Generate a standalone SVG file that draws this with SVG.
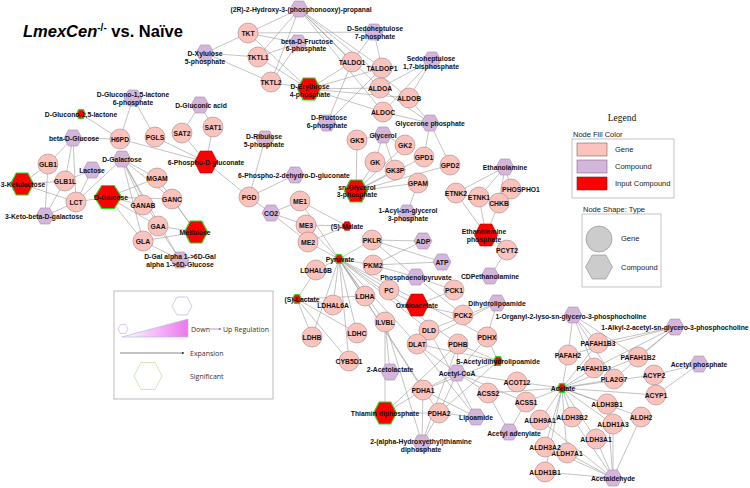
<svg xmlns="http://www.w3.org/2000/svg" xmlns:xlink="http://www.w3.org/1999/xlink" width="750" height="488" viewBox="0 0 750 488">
<style>
.gene{fill:#fcc3bd;stroke:#a08585;stroke-width:.6}
.cmp{fill:#d4b6db;stroke:#a48bab;stroke-width:.6}
.inp{fill:#ff0000;stroke:#22dd22;stroke-width:1.2}
.inpn{fill:#ff0000;stroke:#b00000;stroke-width:.6}
.lb{font-family:"Liberation Sans",Arial,sans-serif;font-weight:bold;font-size:6.8px;text-anchor:middle;fill:#111}
#edges line{stroke:#9a9a9a;stroke-width:.6}
.lg{font-family:"Liberation Sans",Arial,sans-serif;font-size:7.5px;fill:#222}
.lg2{font-family:"Open Sans","Liberation Sans",sans-serif;font-size:7px;fill:#333}
</style>
<defs>
<polygon id="hx" points="-9,0 -4.5,-8 4.5,-8 9,0 4.5,8 -4.5,8"/>
<polygon id="hs" points="-4.5,0 -2.3,-4.3 2.3,-4.3 4.5,0 2.3,4.3 -2.3,4.3"/>
<polygon id="hb" points="-11.5,0 -5.8,-11 5.8,-11 11.5,0 5.8,11 -5.8,11"/>
<linearGradient id="grad" x1="0" y1="0" x2="1" y2="0"><stop offset="0" stop-color="#ffffff"/><stop offset="1" stop-color="#ee77ee"/></linearGradient>
<marker id="arr" viewBox="0 0 6 6" refX="5" refY="3" markerWidth="4" markerHeight="4" orient="auto"><path d="M0,0 L6,3 L0,6 z" fill="#333"/></marker>
<marker id="arrp" viewBox="0 0 6 6" refX="5" refY="3" markerWidth="4" markerHeight="4" orient="auto"><path d="M0,0 L6,3 L0,6 z" fill="#9966cc"/></marker>
</defs>
<rect width="750" height="488" fill="#ffffff"/>
<text x="23" y="37" font-family="'Liberation Sans',Arial,sans-serif" font-weight="bold" font-size="16.5" fill="#000"><tspan font-style="italic">LmexCen</tspan><tspan font-size="10" dy="-6">-/-</tspan><tspan dy="6"> vs. Naïve</tspan></text>
<g id="edges">
<line x1="133" y1="98" x2="120" y2="139"/><line x1="133" y1="98" x2="155" y2="137"/><line x1="81" y1="114" x2="120" y2="139"/><line x1="73" y1="138" x2="120" y2="139"/><line x1="73" y1="138" x2="48" y2="164"/><line x1="73" y1="138" x2="65" y2="181"/><line x1="73" y1="138" x2="76" y2="202"/><line x1="120" y1="139" x2="206" y2="162"/><line x1="155" y1="137" x2="206" y2="162"/><line x1="182" y1="133" x2="200" y2="105"/><line x1="213" y1="127" x2="200" y2="105"/><line x1="182" y1="133" x2="206" y2="162"/><line x1="213" y1="127" x2="206" y2="162"/><line x1="206" y1="162" x2="249" y2="197"/><line x1="265" y1="139" x2="249" y2="197"/><line x1="249" y1="197" x2="295" y2="175"/><line x1="249" y1="197" x2="271" y2="213"/><line x1="271" y1="213" x2="300" y2="201"/><line x1="271" y1="213" x2="306" y2="225"/><line x1="271" y1="213" x2="308" y2="242"/><line x1="300" y1="201" x2="347" y2="226"/><line x1="300" y1="201" x2="339" y2="259"/><line x1="306" y1="225" x2="347" y2="226"/><line x1="306" y1="225" x2="339" y2="259"/><line x1="308" y1="242" x2="347" y2="226"/><line x1="308" y1="242" x2="339" y2="259"/>
<line x1="22" y1="184" x2="48" y2="164"/><line x1="22" y1="184" x2="65" y2="181"/><line x1="22" y1="184" x2="76" y2="202"/><line x1="45" y1="216" x2="48" y2="164"/><line x1="45" y1="216" x2="65" y2="181"/><line x1="45" y1="216" x2="76" y2="202"/><line x1="92" y1="170" x2="76" y2="202"/><line x1="92" y1="170" x2="65" y2="181"/><line x1="76" y1="202" x2="108" y2="197"/><line x1="76" y1="202" x2="122" y2="159"/><line x1="122" y1="159" x2="157" y2="178"/><line x1="122" y1="159" x2="143" y2="205"/><line x1="122" y1="159" x2="172" y2="199"/><line x1="122" y1="159" x2="158" y2="226"/><line x1="122" y1="159" x2="143" y2="241"/><line x1="122" y1="159" x2="180" y2="260"/><line x1="108" y1="197" x2="157" y2="178"/><line x1="108" y1="197" x2="143" y2="205"/><line x1="108" y1="197" x2="172" y2="199"/><line x1="108" y1="197" x2="158" y2="226"/><line x1="108" y1="197" x2="143" y2="241"/><line x1="196" y1="232" x2="172" y2="199"/><line x1="196" y1="232" x2="158" y2="226"/><line x1="196" y1="232" x2="143" y2="241"/><line x1="196" y1="232" x2="157" y2="178"/><line x1="180" y1="260" x2="143" y2="241"/><line x1="180" y1="260" x2="158" y2="226"/>
<line x1="299" y1="9" x2="248" y2="33"/><line x1="299" y1="9" x2="258" y2="57"/><line x1="299" y1="9" x2="271" y2="82"/><line x1="299" y1="9" x2="352" y2="62"/><line x1="299" y1="9" x2="382" y2="68"/><line x1="299" y1="9" x2="380" y2="88"/><line x1="299" y1="9" x2="409" y2="98"/><line x1="299" y1="9" x2="383" y2="112"/><line x1="205" y1="53" x2="248" y2="33"/><line x1="205" y1="53" x2="258" y2="57"/><line x1="205" y1="53" x2="271" y2="82"/><line x1="298" y1="43" x2="248" y2="33"/><line x1="298" y1="43" x2="258" y2="57"/><line x1="298" y1="43" x2="271" y2="82"/><line x1="309" y1="89" x2="248" y2="33"/><line x1="309" y1="89" x2="258" y2="57"/><line x1="309" y1="89" x2="271" y2="82"/><line x1="309" y1="89" x2="352" y2="62"/><line x1="309" y1="89" x2="382" y2="68"/><line x1="309" y1="89" x2="380" y2="88"/><line x1="309" y1="89" x2="409" y2="98"/><line x1="309" y1="89" x2="383" y2="112"/><line x1="374" y1="32" x2="352" y2="62"/><line x1="374" y1="32" x2="382" y2="68"/><line x1="374" y1="32" x2="248" y2="33"/><line x1="327" y1="123" x2="352" y2="62"/><line x1="327" y1="123" x2="382" y2="68"/><line x1="432" y1="60" x2="380" y2="88"/><line x1="432" y1="60" x2="409" y2="98"/><line x1="432" y1="60" x2="383" y2="112"/><line x1="430" y1="123" x2="380" y2="88"/><line x1="430" y1="123" x2="409" y2="98"/><line x1="430" y1="123" x2="383" y2="112"/><line x1="430" y1="123" x2="424" y2="157"/><line x1="430" y1="123" x2="450" y2="165"/>
<line x1="383" y1="135" x2="357" y2="140"/><line x1="383" y1="135" x2="375" y2="162"/><line x1="383" y1="135" x2="405" y2="145"/><line x1="383" y1="135" x2="395" y2="170"/><line x1="356" y1="191" x2="357" y2="140"/><line x1="356" y1="191" x2="375" y2="162"/><line x1="356" y1="191" x2="405" y2="145"/><line x1="356" y1="191" x2="395" y2="170"/><line x1="356" y1="191" x2="424" y2="157"/><line x1="356" y1="191" x2="450" y2="165"/><line x1="356" y1="191" x2="418" y2="183"/><line x1="418" y1="183" x2="407" y2="213"/>
<line x1="505" y1="167" x2="456" y2="193"/><line x1="505" y1="167" x2="479" y2="197"/><line x1="505" y1="167" x2="499" y2="203"/><line x1="505" y1="167" x2="511" y2="189"/><line x1="486" y1="235" x2="456" y2="193"/><line x1="486" y1="235" x2="479" y2="197"/><line x1="486" y1="235" x2="499" y2="203"/><line x1="486" y1="235" x2="507" y2="250"/><line x1="490" y1="276" x2="507" y2="250"/>
<line x1="339" y1="259" x2="316" y2="270"/><line x1="339" y1="259" x2="333" y2="305"/><line x1="339" y1="259" x2="365" y2="296"/><line x1="339" y1="259" x2="312" y2="337"/><line x1="339" y1="259" x2="357" y2="333"/><line x1="339" y1="259" x2="349" y2="361"/><line x1="339" y1="259" x2="372" y2="240"/><line x1="339" y1="259" x2="373" y2="265"/><line x1="339" y1="259" x2="389" y2="290"/><line x1="339" y1="259" x2="423" y2="390"/><line x1="339" y1="259" x2="439" y2="413"/><line x1="339" y1="259" x2="458" y2="344"/><line x1="339" y1="259" x2="417" y2="344"/><line x1="339" y1="259" x2="385" y2="322"/><line x1="339" y1="259" x2="429" y2="330"/><line x1="339" y1="259" x2="487" y2="337"/>
<line x1="297" y1="299" x2="316" y2="270"/><line x1="297" y1="299" x2="333" y2="305"/><line x1="297" y1="299" x2="365" y2="296"/><line x1="297" y1="299" x2="312" y2="337"/><line x1="297" y1="299" x2="357" y2="333"/><line x1="297" y1="299" x2="349" y2="361"/>
<line x1="372" y1="240" x2="416" y2="277"/><line x1="373" y1="265" x2="416" y2="277"/><line x1="372" y1="240" x2="423" y2="241"/><line x1="373" y1="265" x2="423" y2="241"/><line x1="372" y1="240" x2="442" y2="262"/><line x1="373" y1="265" x2="442" y2="262"/><line x1="454" y1="290" x2="416" y2="277"/><line x1="463" y1="315" x2="416" y2="277"/><line x1="389" y1="290" x2="417" y2="305"/><line x1="454" y1="290" x2="417" y2="305"/><line x1="463" y1="315" x2="417" y2="305"/>
<line x1="385" y1="322" x2="390" y2="372"/><line x1="385" y1="322" x2="385" y2="413"/><line x1="385" y1="322" x2="422" y2="443"/><line x1="423" y1="390" x2="457" y2="373"/><line x1="423" y1="390" x2="385" y2="413"/><line x1="423" y1="390" x2="422" y2="443"/><line x1="423" y1="390" x2="476" y2="417"/><line x1="423" y1="390" x2="498" y2="361"/><line x1="439" y1="413" x2="457" y2="373"/><line x1="439" y1="413" x2="385" y2="413"/><line x1="439" y1="413" x2="422" y2="443"/><line x1="439" y1="413" x2="476" y2="417"/><line x1="439" y1="413" x2="498" y2="361"/><line x1="458" y1="344" x2="457" y2="373"/><line x1="458" y1="344" x2="385" y2="413"/><line x1="458" y1="344" x2="422" y2="443"/><line x1="458" y1="344" x2="498" y2="361"/><line x1="417" y1="344" x2="457" y2="373"/><line x1="417" y1="344" x2="498" y2="361"/><line x1="417" y1="344" x2="497" y2="303"/><line x1="417" y1="344" x2="476" y2="417"/><line x1="429" y1="330" x2="497" y2="303"/><line x1="429" y1="330" x2="476" y2="417"/><line x1="487" y1="337" x2="457" y2="373"/><line x1="487" y1="337" x2="498" y2="361"/><line x1="487" y1="337" x2="497" y2="303"/>
<line x1="517" y1="382" x2="457" y2="373"/><line x1="517" y1="382" x2="562" y2="388"/><line x1="488" y1="393" x2="457" y2="373"/><line x1="488" y1="393" x2="562" y2="388"/><line x1="488" y1="393" x2="509" y2="432"/><line x1="526" y1="402" x2="457" y2="373"/><line x1="526" y1="402" x2="562" y2="388"/><line x1="526" y1="402" x2="509" y2="432"/>
<line x1="562" y1="388" x2="598" y2="343"/><line x1="562" y1="388" x2="568" y2="355"/><line x1="562" y1="388" x2="638" y2="357"/><line x1="562" y1="388" x2="594" y2="368"/><line x1="562" y1="388" x2="614" y2="379"/><line x1="562" y1="388" x2="654" y2="375"/><line x1="562" y1="388" x2="656" y2="395"/><line x1="562" y1="388" x2="607" y2="404"/><line x1="562" y1="388" x2="572" y2="417"/><line x1="562" y1="388" x2="641" y2="417"/><line x1="562" y1="388" x2="613" y2="424"/><line x1="562" y1="388" x2="596" y2="439"/><line x1="562" y1="388" x2="567" y2="453"/><line x1="562" y1="388" x2="540" y2="420"/><line x1="562" y1="388" x2="545" y2="447"/><line x1="562" y1="388" x2="545" y2="472"/>
<line x1="613" y1="478" x2="607" y2="404"/><line x1="613" y1="478" x2="572" y2="417"/><line x1="613" y1="478" x2="641" y2="417"/><line x1="613" y1="478" x2="613" y2="424"/><line x1="613" y1="478" x2="596" y2="439"/><line x1="613" y1="478" x2="567" y2="453"/><line x1="613" y1="478" x2="540" y2="420"/><line x1="613" y1="478" x2="545" y2="447"/><line x1="613" y1="478" x2="545" y2="472"/>
<line x1="699" y1="364" x2="656" y2="395"/><line x1="699" y1="364" x2="654" y2="375"/>
<line x1="573" y1="315" x2="598" y2="343"/><line x1="573" y1="315" x2="568" y2="355"/><line x1="573" y1="315" x2="594" y2="368"/><line x1="573" y1="315" x2="638" y2="357"/><line x1="573" y1="315" x2="614" y2="379"/><line x1="675" y1="327" x2="598" y2="343"/><line x1="675" y1="327" x2="568" y2="355"/><line x1="675" y1="327" x2="594" y2="368"/><line x1="675" y1="327" x2="638" y2="357"/><line x1="675" y1="327" x2="614" y2="379"/>
</g>
<g id="nodes">
<g id="n-G15L6P"><use href="#hx" x="133" y="98" class="cmp"/><text class="lb" x="133" y="97">D-Glucono-1,5-lactone</text><text class="lb" x="133" y="105">6-phosphate</text></g>
<g id="n-bDGlc"><use href="#hx" x="73" y="138" class="cmp"/><text class="lb" x="74" y="141">beta-D-Glucose</text></g>
<g id="n-DGal"><use href="#hx" x="122" y="159" class="cmp"/><text class="lb" x="122" y="161.5">D-Galactose</text></g>
<g id="n-Lac"><use href="#hx" x="92" y="170" class="cmp"/><text class="lb" x="92" y="172.5">Lactose</text></g>
<g id="n-KbDGal"><use href="#hx" x="45" y="216" class="cmp"/><text class="lb" x="44" y="219">3-Keto-beta-D-galactose</text></g>
<g id="n-DGalA"><use href="#hx" x="180" y="260" class="cmp"/><text class="lb" x="180" y="258.5">D-Gal alpha 1-&gt;6D-Gal</text><text class="lb" x="180" y="266.5">alpha 1-&gt;6D-Glucose</text></g>
<g id="n-DGlcA"><use href="#hx" x="200" y="105" class="cmp"/><text class="lb" x="201" y="107.5">D-Gluconic acid</text></g>
<g id="n-R2H"><use href="#hx" x="299" y="9" class="cmp"/><text class="lb" x="301" y="11.5">(2R)-2-Hydroxy-3-(phosphonooxy)-propanal</text></g>
<g id="n-bF6P"><use href="#hx" x="298" y="43" class="cmp"/><text class="lb" x="307" y="43.5">beta-D-Fructose</text><text class="lb" x="306" y="51">6-phosphate</text></g>
<g id="n-X5P"><use href="#hx" x="205" y="53" class="cmp"/><text class="lb" x="205" y="55.5">D-Xylulose</text><text class="lb" x="205" y="64">5-phosphate</text></g>
<g id="n-S7P"><use href="#hx" x="374" y="32" class="cmp"/><text class="lb" x="375" y="30.5">D-Sedoheptulose</text><text class="lb" x="375" y="38.5">7-phosphate</text></g>
<g id="n-S17BP"><use href="#hx" x="432" y="60" class="cmp"/><text class="lb" x="431" y="60.5">Sedoheptulose</text><text class="lb" x="431" y="68.5">1,7-bisphosphate</text></g>
<g id="n-F6P"><use href="#hx" x="327" y="123" class="cmp"/><text class="lb" x="329" y="119.5">D-Fructose</text><text class="lb" x="327" y="127.5">6-phosphate</text></g>
<g id="n-Ru5P"><use href="#hx" x="265" y="139" class="cmp"/><text class="lb" x="264" y="138.5">D-Ribulose</text><text class="lb" x="264" y="146.5">5-phosphate</text></g>
<g id="n-GnP"><use href="#hx" x="430" y="123" class="cmp"/><text class="lb" x="430" y="125.5">Glycerone phosphate</text></g>
<g id="n-Gly"><use href="#hx" x="383" y="135" class="cmp"/><text class="lb" x="383" y="137.5">Glycerol</text></g>
<g id="n-AcylG3P"><use href="#hx" x="407" y="213" class="cmp"/><text class="lb" x="408" y="212.5">1-Acyl-sn-glycerol</text><text class="lb" x="408" y="220.5">3-phosphate</text></g>
<g id="n-PDG"><use href="#hx" x="295" y="175" class="cmp"/><text class="lb" x="294" y="177.5">6-Phospho-2-dehydro-D-gluconate</text></g>
<g id="n-CO2"><use href="#hx" x="271" y="213" class="cmp"/><text class="lb" x="271" y="215.5">CO2</text></g>
<g id="n-Etn"><use href="#hx" x="505" y="167" class="cmp"/><text class="lb" x="505" y="169.5">Ethanolamine</text></g>
<g id="n-CDPE"><use href="#hx" x="490" y="276" class="cmp"/><text class="lb" x="490" y="278.5">CDPethanolamine</text></g>
<g id="n-ADP"><use href="#hx" x="423" y="241" class="cmp"/><text class="lb" x="423" y="243.5">ADP</text></g>
<g id="n-ATP"><use href="#hx" x="442" y="262" class="cmp"/><text class="lb" x="442" y="264.5">ATP</text></g>
<g id="n-PEP"><use href="#hx" x="416" y="277" class="cmp"/><text class="lb" x="416" y="279.5">Phosphoenolpyruvate</text></g>
<g id="n-DHLA"><use href="#hx" x="497" y="303" class="cmp"/><text class="lb" x="497" y="305.5">Dihydrolipoamide</text></g>
<g id="n-Org"><use href="#hx" x="573" y="315" class="cmp"/><text class="lb" x="571" y="318.5">1-Organyl-2-lyso-sn-glycero-3-phosphocholine</text></g>
<g id="n-Alk"><use href="#hx" x="675" y="327" class="cmp"/><text class="lb" x="675" y="329.5">1-Alkyl-2-acetyl-sn-glycero-3-phosphocholine</text></g>
<g id="n-AcCoA"><use href="#hx" x="457" y="373" class="cmp"/><text class="lb" x="457" y="375.5">Acetyl-CoA</text></g>
<g id="n-AcLac"><use href="#hx" x="390" y="372" class="cmp"/><text class="lb" x="390" y="372">2-Acetolactate</text></g>
<g id="n-Lip"><use href="#hx" x="476" y="417" class="cmp"/><text class="lb" x="476" y="419.5">Lipoamide</text></g>
<g id="n-HETPP"><use href="#hx" x="422" y="443" class="cmp"/><text class="lb" x="421" y="444">2-(alpha-Hydroxyethyl)thiamine</text><text class="lb" x="421" y="451.5">diphosphate</text></g>
<g id="n-AcAd"><use href="#hx" x="509" y="432" class="cmp"/><text class="lb" x="514" y="436">Acetyl adenylate</text></g>
<g id="n-AcP"><use href="#hx" x="699" y="364" class="cmp"/><text class="lb" x="699" y="366.5">Acetyl phosphate</text></g>
<g id="n-AcAl"><use href="#hx" x="613" y="478" class="cmp"/><text class="lb" x="613" y="480.5">Acetaldehyde</text></g>
<g id="n-G15L"><use href="#hs" x="81" y="114" class="inp"/><text class="lb" x="81" y="116.5">D-Glucono-1,5-lactone</text></g>
<g id="n-KLac"><use href="#hb" x="22" y="184" class="inp"/><text class="lb" x="23" y="186.5">3-Ketolactose</text></g>
<g id="n-DGlc"><polygon class="inp" points="94.5,197 101.7,185.5 114.3,185.5 121.5,197 114.3,208.5 101.7,208.5"/><text class="lb" x="111" y="199.5">D-Glucose</text></g>
<g id="n-Mel"><use href="#hb" x="196" y="232" class="inp"/><text class="lb" x="195" y="235">Melibiose</text></g>
<g id="n-PG6"><use href="#hb" x="206" y="162" class="inpn"/><text class="lb" x="206" y="164.5">6-Phospho-D-gluconate</text></g>
<g id="n-E4P"><use href="#hb" x="309" y="89" class="inp"/><text class="lb" x="310" y="88.5">D-Erythrose</text><text class="lb" x="310" y="96.5">4-phosphate</text></g>
<g id="n-G3P"><use href="#hb" x="356" y="191" class="inp"/><text class="lb" x="357" y="189.5">sn-Glycerol</text><text class="lb" x="357" y="197">3-phosphate</text></g>
<g id="n-Mal"><use href="#hs" x="347" y="226" class="inpn"/><text class="lb" x="347" y="228.5">(S)-Malate</text></g>
<g id="n-Pyr"><use href="#hs" x="339" y="259" class="inp"/><text class="lb" x="340" y="261.5">Pyruvate</text></g>
<g id="n-LacS"><use href="#hs" x="297" y="299" class="inp"/><text class="lb" x="302" y="301.5">(S)-Lactate</text></g>
<g id="n-OAA"><use href="#hb" x="417" y="305" class="inpn"/><text class="lb" x="417" y="308">Oxaloacetate</text></g>
<g id="n-EtnP"><use href="#hb" x="486" y="235" class="inpn"/><text class="lb" x="484" y="233.5">Ethanolamine</text><text class="lb" x="484" y="241.5">phosphate</text></g>
<g id="n-SAc"><use href="#hs" x="498" y="361" class="inp"/><text class="lb" x="498" y="363.5">S-Acetyldihydrolipoamide</text></g>
<g id="n-TPP"><use href="#hb" x="385" y="413" class="inp"/><text class="lb" x="385" y="415.5">Thiamin diphosphate</text></g>
<g id="n-Ace"><use href="#hs" x="562" y="388" class="inp"/><text class="lb" x="563" y="390.5">Acetate</text></g>
<g id="n-H6PD"><circle class="gene" cx="120" cy="139" r="10"/><text class="lb" x="120" y="141.5">H6PD</text></g>
<g id="n-PGLS"><circle class="gene" cx="155" cy="137" r="10"/><text class="lb" x="155" y="139.5">PGLS</text></g>
<g id="n-SAT2"><circle class="gene" cx="182" cy="133" r="10"/><text class="lb" x="182" y="135.5">SAT2</text></g>
<g id="n-SAT1"><circle class="gene" cx="213" cy="127" r="10"/><text class="lb" x="213" y="129.5">SAT1</text></g>
<g id="n-GLB1"><circle class="gene" cx="48" cy="164" r="10"/><text class="lb" x="48" y="166.5">GLB1</text></g>
<g id="n-GLB1L"><circle class="gene" cx="65" cy="181" r="10"/><text class="lb" x="65" y="183.5">GLB1L</text></g>
<g id="n-LCT"><circle class="gene" cx="76" cy="202" r="10"/><text class="lb" x="76" y="204.5">LCT</text></g>
<g id="n-MGAM"><circle class="gene" cx="157" cy="178" r="10"/><text class="lb" x="157" y="180.5">MGAM</text></g>
<g id="n-GANC"><circle class="gene" cx="172" cy="199" r="10"/><text class="lb" x="172" y="201.5">GANC</text></g>
<g id="n-GANAB"><circle class="gene" cx="143" cy="205" r="10"/><text class="lb" x="143" y="207.5">GANAB</text></g>
<g id="n-GAA"><circle class="gene" cx="158" cy="226" r="10"/><text class="lb" x="158" y="228.5">GAA</text></g>
<g id="n-GLA"><circle class="gene" cx="143" cy="241" r="10"/><text class="lb" x="143" y="243.5">GLA</text></g>
<g id="n-TKT"><circle class="gene" cx="248" cy="33" r="10"/><text class="lb" x="248" y="35.5">TKT</text></g>
<g id="n-TKTL1"><circle class="gene" cx="258" cy="57" r="10"/><text class="lb" x="258" y="59.5">TKTL1</text></g>
<g id="n-TKTL2"><circle class="gene" cx="271" cy="82" r="10"/><text class="lb" x="271" y="84.5">TKTL2</text></g>
<g id="n-TALDO1"><circle class="gene" cx="352" cy="62" r="10"/><text class="lb" x="352" y="64.5">TALDO1</text></g>
<g id="n-TALDOP1"><circle class="gene" cx="382" cy="68" r="10"/><text class="lb" x="382" y="70.5">TALDOP1</text></g>
<g id="n-ALDOA"><circle class="gene" cx="380" cy="88" r="10"/><text class="lb" x="380" y="90.5">ALDOA</text></g>
<g id="n-ALDOC"><circle class="gene" cx="383" cy="112" r="10"/><text class="lb" x="383" y="114.5">ALDOC</text></g>
<g id="n-ALDOB"><circle class="gene" cx="409" cy="98" r="10"/><text class="lb" x="409" y="100.5">ALDOB</text></g>
<g id="n-GK5"><circle class="gene" cx="357" cy="140" r="10"/><text class="lb" x="357" y="142.5">GK5</text></g>
<g id="n-GK"><circle class="gene" cx="375" cy="162" r="10"/><text class="lb" x="375" y="164.5">GK</text></g>
<g id="n-GK2"><circle class="gene" cx="405" cy="145" r="10"/><text class="lb" x="405" y="147.5">GK2</text></g>
<g id="n-GPD1"><circle class="gene" cx="424" cy="157" r="10"/><text class="lb" x="424" y="159.5">GPD1</text></g>
<g id="n-GPD2"><circle class="gene" cx="450" cy="165" r="10"/><text class="lb" x="450" y="167.5">GPD2</text></g>
<g id="n-GK3P"><circle class="gene" cx="395" cy="170" r="10"/><text class="lb" x="395" y="172.5">GK3P</text></g>
<g id="n-GPAM"><circle class="gene" cx="418" cy="183" r="10"/><text class="lb" x="418" y="185.5">GPAM</text></g>
<g id="n-PGD"><circle class="gene" cx="249" cy="197" r="10"/><text class="lb" x="249" y="199.5">PGD</text></g>
<g id="n-ME1"><circle class="gene" cx="300" cy="201" r="10"/><text class="lb" x="300" y="203.5">ME1</text></g>
<g id="n-ME3"><circle class="gene" cx="306" cy="225" r="10"/><text class="lb" x="306" y="227.5">ME3</text></g>
<g id="n-ME2"><circle class="gene" cx="308" cy="242" r="10"/><text class="lb" x="308" y="244.5">ME2</text></g>
<g id="n-LDHAL6B"><circle class="gene" cx="316" cy="270" r="10"/><text class="lb" x="316" y="272.5">LDHAL6B</text></g>
<g id="n-LDHAL6A"><circle class="gene" cx="333" cy="305" r="10"/><text class="lb" x="333" y="307.5">LDHAL6A</text></g>
<g id="n-LDHA"><circle class="gene" cx="365" cy="296" r="10"/><text class="lb" x="365" y="298.5">LDHA</text></g>
<g id="n-LDHB"><circle class="gene" cx="312" cy="337" r="10"/><text class="lb" x="312" y="339.5">LDHB</text></g>
<g id="n-LDHC"><circle class="gene" cx="357" cy="333" r="10"/><text class="lb" x="357" y="335.5">LDHC</text></g>
<g id="n-CYB5D1"><circle class="gene" cx="349" cy="361" r="10"/><text class="lb" x="349" y="363.5">CYB5D1</text></g>
<g id="n-PKLR"><circle class="gene" cx="372" cy="240" r="10"/><text class="lb" x="372" y="242.5">PKLR</text></g>
<g id="n-PKM2"><circle class="gene" cx="373" cy="265" r="10"/><text class="lb" x="373" y="267.5">PKM2</text></g>
<g id="n-PC"><circle class="gene" cx="389" cy="290" r="10"/><text class="lb" x="389" y="292.5">PC</text></g>
<g id="n-PCK1"><circle class="gene" cx="454" cy="290" r="10"/><text class="lb" x="454" y="292.5">PCK1</text></g>
<g id="n-PCK2"><circle class="gene" cx="463" cy="315" r="10"/><text class="lb" x="463" y="317.5">PCK2</text></g>
<g id="n-ILVBL"><circle class="gene" cx="385" cy="322" r="10"/><text class="lb" x="385" y="324.5">ILVBL</text></g>
<g id="n-DLD"><circle class="gene" cx="429" cy="330" r="10"/><text class="lb" x="429" y="332.5">DLD</text></g>
<g id="n-DLAT"><circle class="gene" cx="417" cy="344" r="10"/><text class="lb" x="417" y="346.5">DLAT</text></g>
<g id="n-PDHB"><circle class="gene" cx="458" cy="344" r="10"/><text class="lb" x="458" y="346.5">PDHB</text></g>
<g id="n-PDHX"><circle class="gene" cx="487" cy="337" r="10"/><text class="lb" x="487" y="339.5">PDHX</text></g>
<g id="n-PDHA1"><circle class="gene" cx="423" cy="390" r="10"/><text class="lb" x="423" y="392.5">PDHA1</text></g>
<g id="n-PDHA2"><circle class="gene" cx="439" cy="413" r="10"/><text class="lb" x="439" y="415.5">PDHA2</text></g>
<g id="n-ACOT12"><circle class="gene" cx="517" cy="382" r="10"/><text class="lb" x="517" y="384.5">ACOT12</text></g>
<g id="n-ACSS2"><circle class="gene" cx="488" cy="393" r="10"/><text class="lb" x="488" y="395.5">ACSS2</text></g>
<g id="n-ACSS1"><circle class="gene" cx="526" cy="402" r="10"/><text class="lb" x="526" y="404.5">ACSS1</text></g>
<g id="n-ETNK2"><circle class="gene" cx="456" cy="193" r="10"/><text class="lb" x="456" y="195.5">ETNK2</text></g>
<g id="n-ETNK1"><circle class="gene" cx="479" cy="197" r="10"/><text class="lb" x="479" y="199.5">ETNK1</text></g>
<g id="n-PHOSPHO1"><circle class="gene" cx="511" cy="189" r="10"/><text class="lb" x="521" y="191.5">PHOSPHO1</text></g>
<g id="n-CHKB"><circle class="gene" cx="499" cy="203" r="10"/><text class="lb" x="499" y="205.5">CHKB</text></g>
<g id="n-PCYT2"><circle class="gene" cx="507" cy="250" r="10"/><text class="lb" x="507" y="252.5">PCYT2</text></g>
<g id="n-PAFAH1B3"><circle class="gene" cx="598" cy="343" r="10"/><text class="lb" x="598" y="345.5">PAFAH1B3</text></g>
<g id="n-PAFAH2"><circle class="gene" cx="568" cy="355" r="10"/><text class="lb" x="568" y="357.5">PAFAH2</text></g>
<g id="n-PAFAH1B2"><circle class="gene" cx="638" cy="357" r="10"/><text class="lb" x="638" y="359.5">PAFAH1B2</text></g>
<g id="n-PAFAH1B1"><circle class="gene" cx="594" cy="368" r="10"/><text class="lb" x="594" y="370.5">PAFAH1B1</text></g>
<g id="n-PLA2G7"><circle class="gene" cx="614" cy="379" r="10"/><text class="lb" x="614" y="381.5">PLA2G7</text></g>
<g id="n-ACYP2"><circle class="gene" cx="654" cy="375" r="10"/><text class="lb" x="654" y="377.5">ACYP2</text></g>
<g id="n-ACYP1"><circle class="gene" cx="656" cy="395" r="10"/><text class="lb" x="656" y="397.5">ACYP1</text></g>
<g id="n-ALDH3B1"><circle class="gene" cx="607" cy="404" r="10"/><text class="lb" x="607" y="406.5">ALDH3B1</text></g>
<g id="n-ALDH3B2"><circle class="gene" cx="572" cy="417" r="10"/><text class="lb" x="572" y="419.5">ALDH3B2</text></g>
<g id="n-ALDH2"><circle class="gene" cx="641" cy="417" r="10"/><text class="lb" x="641" y="419.5">ALDH2</text></g>
<g id="n-ALDH1A3"><circle class="gene" cx="613" cy="424" r="10"/><text class="lb" x="613" y="426.5">ALDH1A3</text></g>
<g id="n-ALDH3A1"><circle class="gene" cx="596" cy="439" r="10"/><text class="lb" x="596" y="441.5">ALDH3A1</text></g>
<g id="n-ALDH7A1"><circle class="gene" cx="567" cy="453" r="10"/><text class="lb" x="567" y="455.5">ALDH7A1</text></g>
<g id="n-ALDH9A1"><circle class="gene" cx="540" cy="420" r="10"/><text class="lb" x="540" y="422.5">ALDH9A1</text></g>
<g id="n-ALDH3A2"><circle class="gene" cx="545" cy="447" r="10"/><text class="lb" x="545" y="449.5">ALDH3A2</text></g>
<g id="n-ALDH1B1"><circle class="gene" cx="545" cy="472" r="10"/><text class="lb" x="545" y="474.5">ALDH1B1</text></g>
</g>
<g id="legend-right">
<text x="622" y="121" text-anchor="middle" font-family="'Liberation Serif','Times New Roman',serif" font-size="9.5" fill="#111">Legend</text>
<text class="lg" x="573" y="137">Node Fill Color</text>
<rect x="572" y="139" width="102" height="59" fill="#fff" stroke="#b5b5b5" stroke-width="0.8"/>
<rect x="577" y="143" width="30" height="13" fill="#fcc3bd" stroke="#7f6060" stroke-width="0.6"/>
<text class="lg" x="615" y="152">Gene</text>
<rect x="577" y="160" width="30" height="13" fill="#d4b6db" stroke="#7f6a80" stroke-width="0.6"/>
<text class="lg" x="615" y="169">Compound</text>
<rect x="577" y="177" width="30" height="13" fill="#ff0000" stroke="#7f2020" stroke-width="0.6"/>
<text class="lg" x="615" y="186">Input Compound</text>
<text class="lg" x="583" y="211.5">Node Shape:  Type</text>
<rect x="582" y="214" width="79" height="73" fill="#fff" stroke="#b5b5b5" stroke-width="0.8"/>
<circle cx="599" cy="239" r="13" fill="#cccccc" stroke="#888" stroke-width="0.6"/>
<text class="lg" x="621" y="241">Gene</text>
<polygon points="585.5,267 592.2,255 605.8,255 612.5,267 605.8,279 592.2,279" fill="#cccccc" stroke="#888" stroke-width="0.6"/>
<text class="lg" x="621" y="270">Compound</text>
</g>
<g id="legend-left">
<rect x="114" y="291" width="159" height="108" fill="#fff" stroke="#aaaaaa" stroke-width="0.8"/>
<polygon points="118,329 120.5,324.5 125.5,324.5 128,329 125.5,333.5 120.5,333.5" fill="none" stroke="#cbb0e6" stroke-width="0.7"/>
<polygon points="172,306 177,297 187,297 192,306 187,315 177,315" fill="none" stroke="#c4aee8" stroke-width="0.7"/>
<polygon points="122,337 188,319 188,337" fill="url(#grad)" stroke="#a9bfe0" stroke-width="0.7"/>
<text class="lg2" x="191" y="331.5">Down</text>
<line x1="210" y1="329" x2="221" y2="329" stroke="#9966cc" stroke-width="0.7" marker-end="url(#arrp)"/>
<text class="lg2" x="223" y="331.5">Up Regulation</text>
<line x1="120" y1="353" x2="184" y2="353" stroke="#555" stroke-width="0.7" marker-end="url(#arr)"/>
<text class="lg2" x="190" y="355.5">Expansion</text>
<polygon points="134,376 141,362.5 155,362.5 162,376 155,389.5 141,389.5" fill="none" stroke="#bfe0a8" stroke-width="0.8"/>
<text class="lg2" x="190" y="378.5">Significant</text>
</g>
</svg>
